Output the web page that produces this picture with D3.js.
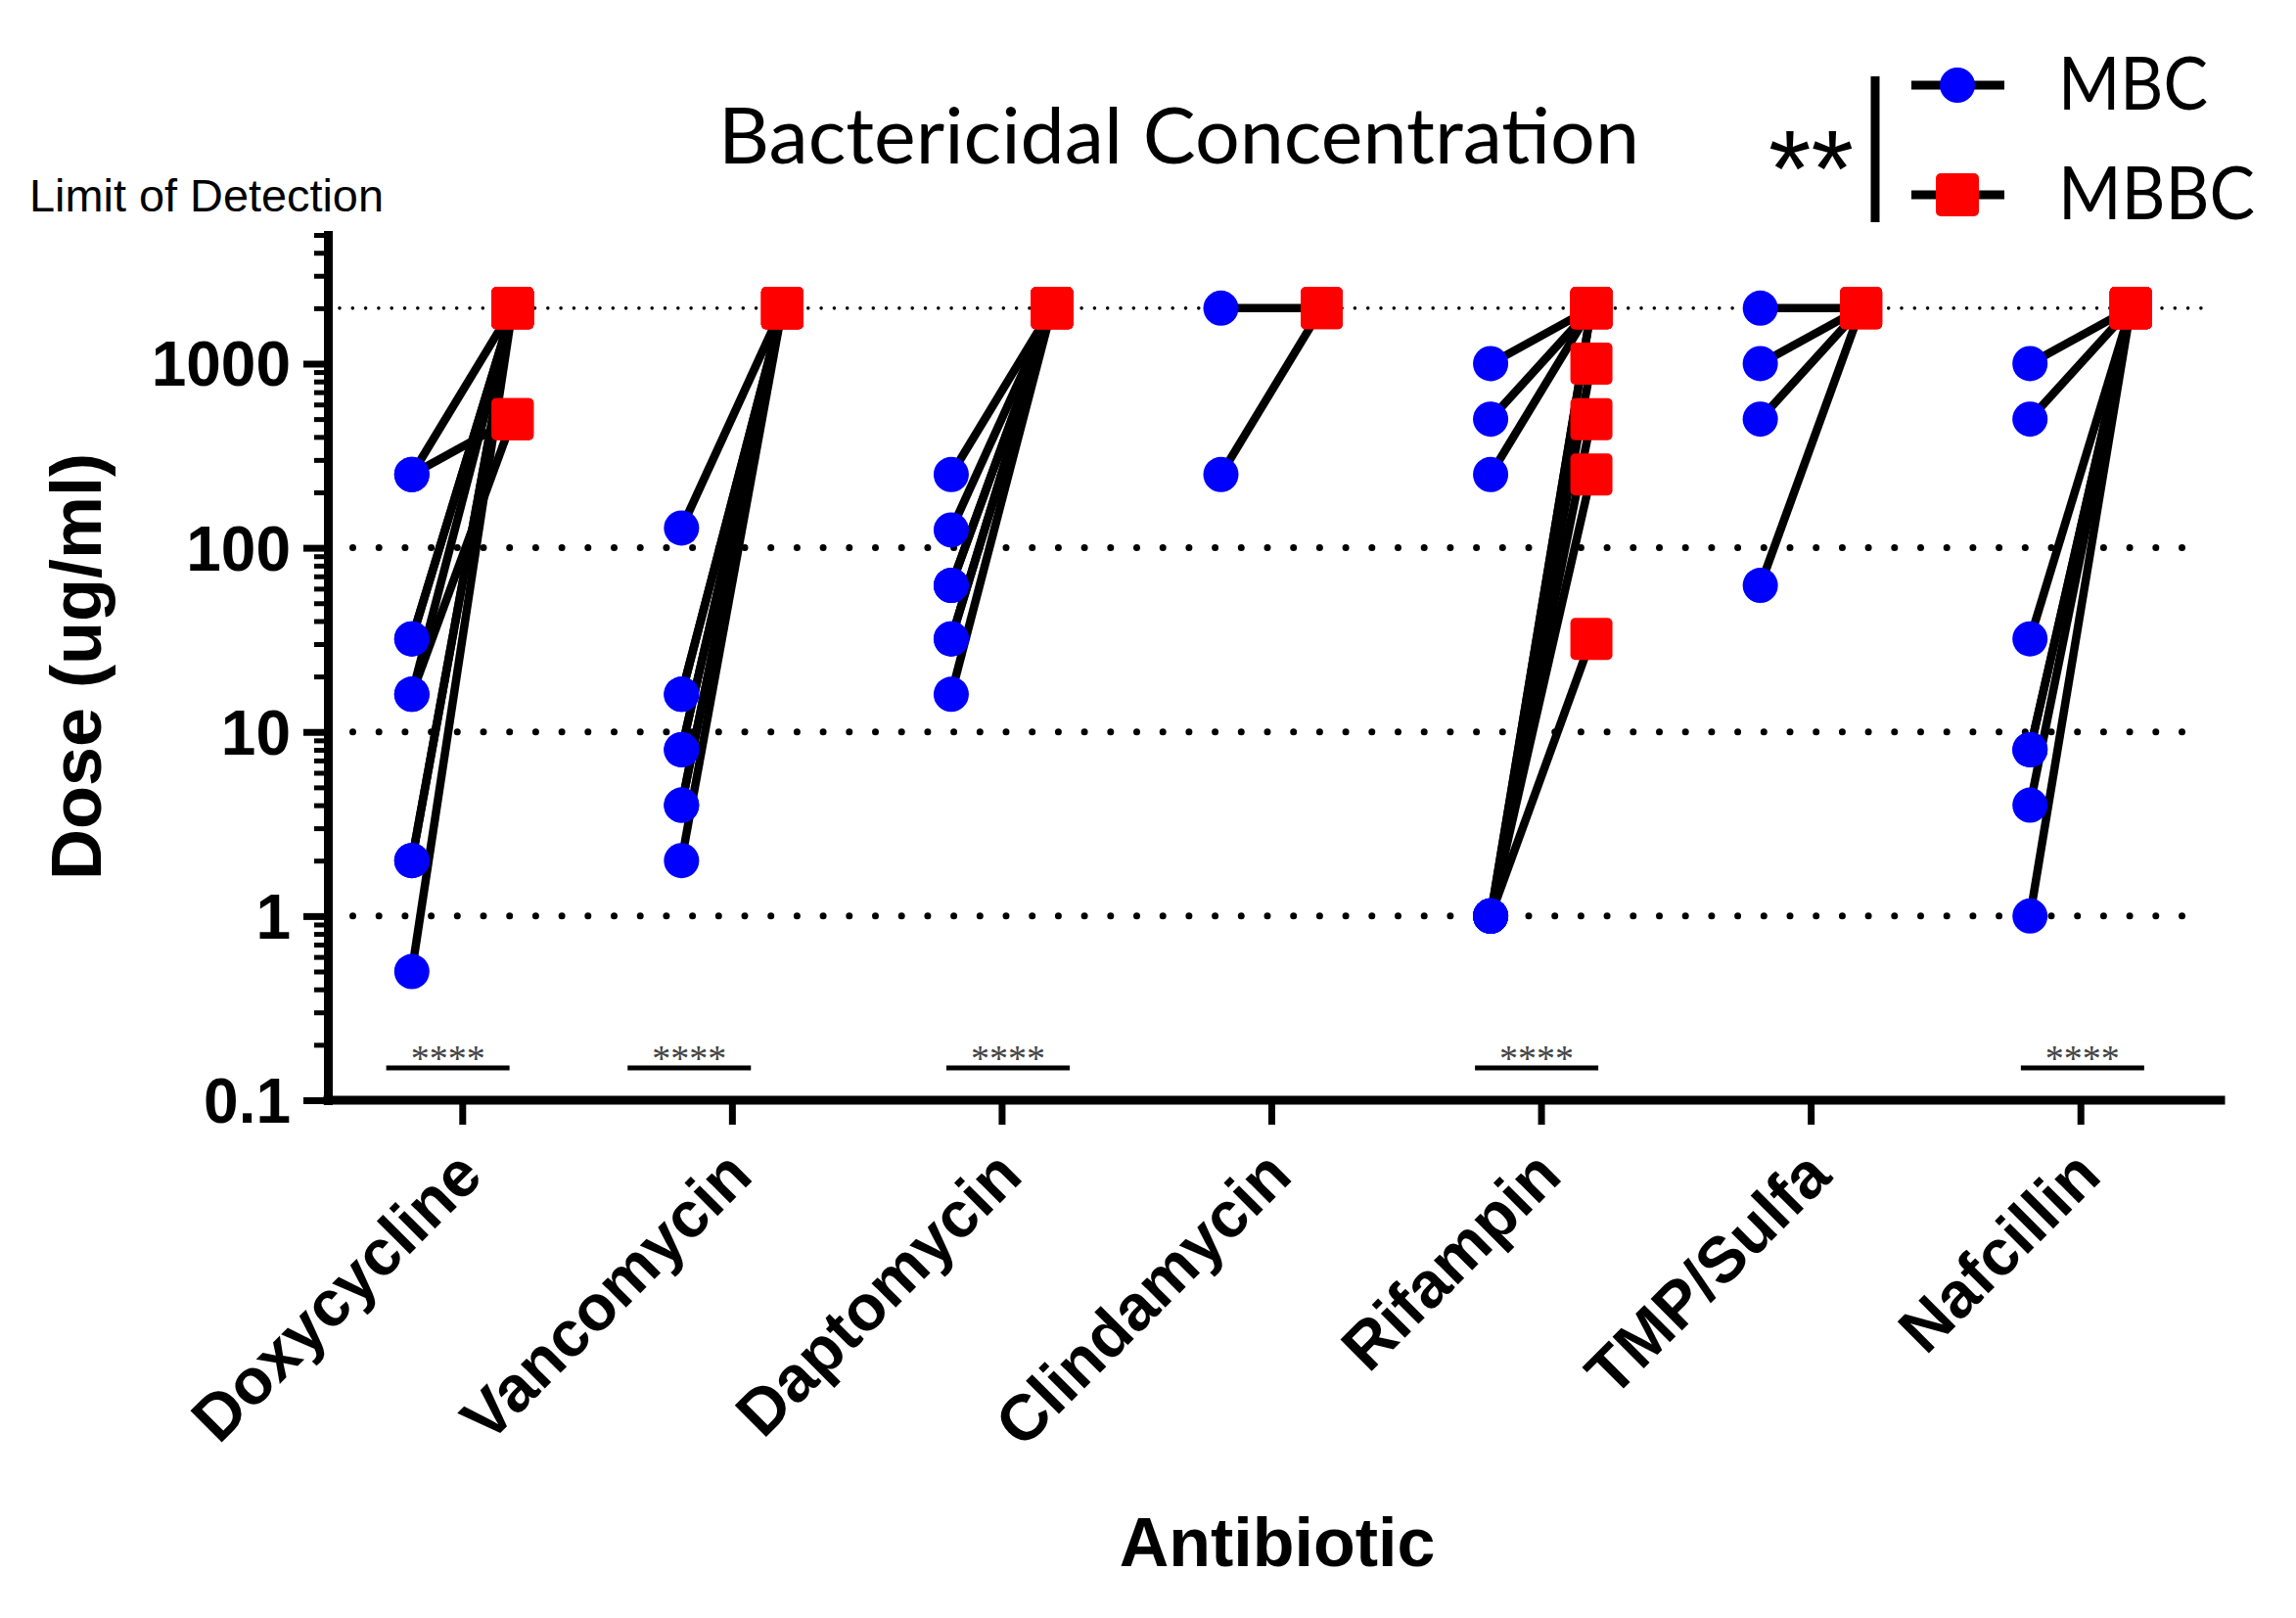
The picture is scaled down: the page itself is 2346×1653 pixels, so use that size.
<!DOCTYPE html>
<html>
<head>
<meta charset="utf-8">
<script src="https://cdn.jsdelivr.net/npm/d3@7"></script>
<style>
  html, body { margin: 0; padding: 0; background: #fff; }
  svg { display: block; }
</style>
</head>
<body>
<script>
// ---------------- DATA ----------------
const categories = ["Doxycycline", "Vancomycin", "Daptomycin", "Clindamycin", "Rifampin", "TMP/Sulfa", "Nafcillin"];
const seriesNames = ["MBC", "MBBC"];
// paired isolate values (MBC -> MBBC), ug/ml
const mbcValues = [
  [250, 250, 32, 32, 16, 16, 2, 2, 0.5],
  [128, 16, 16, 8, 8, 4, 4, 2],
  [250, 125, 62.5, 62.5, 32, 32, 16],
  [2000, 250],
  [1000, 500, 250, 1, 1, 1, 1, 1, 1],
  [2000, 1000, 500, 62.5],
  [1000, 500, 32, 8, 8, 4, 1]
];
const mbbcValues = [
  [2000, 500, 2000, 2000, 500, 2000, 2000, 2000, 2000],
  [2000, 2000, 2000, 2000, 2000, 2000, 2000, 2000],
  [2000, 2000, 2000, 2000, 2000, 2000, 2000],
  [2000, 2000],
  [2000, 2000, 2000, 2000, 2000, 1000, 500, 250, 32],
  [2000, 2000, 2000, 2000],
  [2000, 2000, 2000, 2000, 2000, 2000, 2000]
];
const sigLabels = ["****", "****", "****", "", "****", "", "****"];
const majorTicks = [0.1, 1, 10, 100, 1000];
const majorTickLabels = ["0.1", "1", "10", "100", "1000"];
const gridValues = [1, 10, 100];
const limitOfDetection = 2000;
const yDomain = [0.1, 5000];

// ---------------- LAYOUT ----------------
const W = 2346, H = 1653;
const plot = { left: 335, right: 2264, top: 240, bottom: 1124 };
const sigShift = [-0.055, -0.16, 0.022, 0, -0.018, 0, 0.006]; // in band units

const svg = d3.select("body").append("svg")
  .attr("width", W).attr("height", H)
  .attr("viewBox", `0 0 ${W} ${H}`);

const x = d3.scaleBand().domain(categories).range([plot.left, plot.right]).padding(0);
const xSub = d3.scalePoint().domain(seriesNames).range([-52, 51]);
const y = d3.scaleLog().domain(yDomain).range([plot.bottom, plot.top]);
const cx = c => x(c) + x.bandwidth() / 2;

// ---------------- GRID ----------------
svg.append("g").selectAll("line")
  .data(gridValues).join("line")
  .attr("x1", 360.5).attr("x2", 2252)
  .attr("y1", d => y(d)).attr("y2", d => y(d))
  .attr("stroke", "#000").attr("stroke-width", 7)
  .attr("stroke-linecap", "round").attr("stroke-dasharray", "0 26.7");

svg.append("line")
  .attr("x1", 347).attr("x2", 2262)
  .attr("y1", y(limitOfDetection)).attr("y2", y(limitOfDetection))
  .attr("stroke", "#000").attr("stroke-width", 3.6)
  .attr("stroke-linecap", "round").attr("stroke-dasharray", "0 13.3");

// ---------------- AXES ----------------
const minorTicks = [];
for (let e = -1; e <= 3; e++) {
  for (let m = 2; m <= 9; m++) {
    const v = m * Math.pow(10, e);
    if (v <= yDomain[1]) minorTicks.push(v);
  }
}

const yMinor = svg.append("g").attr("transform", `translate(${plot.left},0)`)
  .call(d3.axisLeft(y).tickValues(minorTicks).tickFormat("").tickSize(14).tickSizeOuter(0));
yMinor.select(".domain").remove();
yMinor.selectAll(".tick line").attr("stroke", "#000").attr("stroke-width", 5);

const yAxis = svg.append("g").attr("transform", `translate(${plot.left},0)`)
  .call(d3.axisLeft(y).tickValues(majorTicks)
    .tickFormat((d, i) => majorTickLabels[i]).tickSize(25).tickSizeOuter(0).tickPadding(13));
yAxis.select(".domain").attr("stroke", "#000").attr("stroke-width", 9)
  .attr("stroke-linecap", "square");
yAxis.selectAll(".tick line").attr("stroke", "#000").attr("stroke-width", 7);
yAxis.selectAll(".tick text")
  .attr("font-family", "'Liberation Sans', Arial, sans-serif")
  .attr("font-weight", "bold").attr("font-size", 64).attr("fill", "#000")
  .attr("dy", "0.35em");

const xAxis = svg.append("g").attr("transform", `translate(0,${plot.bottom})`)
  .call(d3.axisBottom(x).tickSize(25).tickSizeOuter(0).tickFormat(""));
xAxis.select(".domain").attr("d", `M${plot.left},0H2269`)
  .attr("stroke", "#000").attr("stroke-width", 9).attr("stroke-linecap", "square");
xAxis.selectAll(".tick line").attr("stroke", "#000").attr("stroke-width", 7);

// category labels (rotated)
svg.append("g").selectAll("text")
  .data(categories).join("text")
  .attr("transform", d => `translate(${cx(d) + 23},1204) rotate(-45)`)
  .attr("text-anchor", "end")
  .attr("font-family", "'Liberation Sans', Arial, sans-serif")
  .attr("font-weight", "bold").attr("font-size", 66)
  .text(d => d);

// axis titles
svg.append("text")
  .attr("transform", "translate(103,681) rotate(-90)")
  .attr("text-anchor", "middle")
  .attr("font-family", "'Liberation Sans', Arial, sans-serif")
  .attr("font-weight", "bold").attr("font-size", 72)
  .text("Dose (ug/ml)");

svg.append("text")
  .attr("x", 1305).attr("y", 1600)
  .attr("text-anchor", "middle")
  .attr("font-family", "'Liberation Sans', Arial, sans-serif")
  .attr("font-weight", "bold").attr("font-size", 70)
  .text("Antibiotic");

// ---------------- PAIRED DATA ----------------
const pairs = [];
categories.forEach((c, i) => {
  mbcValues[i].forEach((v, j) => pairs.push({ cat: c, mbc: v, mbbc: mbbcValues[i][j] }));
});

svg.append("g").selectAll("line")
  .data(pairs).join("line")
  .attr("x1", d => cx(d.cat) + xSub("MBC")).attr("y1", d => y(d.mbc))
  .attr("x2", d => cx(d.cat) + xSub("MBBC")).attr("y2", d => y(d.mbbc))
  .attr("stroke", "#000").attr("stroke-width", 8.5);

svg.append("g").selectAll("circle")
  .data(pairs).join("circle")
  .attr("cx", d => cx(d.cat) + xSub("MBC")).attr("cy", d => y(d.mbc))
  .attr("r", 18).attr("fill", "#0000ff");

const sq = 43;
svg.append("g").selectAll("rect")
  .data(pairs).join("rect")
  .attr("x", d => cx(d.cat) + xSub("MBBC") - sq / 2).attr("y", d => y(d.mbbc) - sq / 2)
  .attr("width", sq).attr("height", sq).attr("rx", 5)
  .attr("fill", "#ff0000");

// ---------------- SIGNIFICANCE ----------------
const sigG = svg.append("g");
categories.forEach((c, i) => {
  if (!sigLabels[i]) return;
  const mid = cx(c) + sigShift[i] * x.bandwidth();
  sigG.append("line")
    .attr("x1", mid - 63).attr("x2", mid + 63)
    .attr("y1", 1091).attr("y2", 1091)
    .attr("stroke", "#000").attr("stroke-width", 5);
  sigG.append("text")
    .attr("x", mid).attr("y", 1094)
    .attr("text-anchor", "middle")
    .attr("font-family", "'Liberation Serif', 'Times New Roman', serif")
    .attr("font-size", 38).attr("fill", "#444")
    .text(sigLabels[i]);
});

// ---------------- TITLES ----------------
svg.append("text")
  .attr("x", 734).attr("y", 167)
  .attr("font-family", "Lato, 'Noto Sans', sans-serif")
  .attr("font-size", 80)
  .attr("textLength", 941).attr("lengthAdjust", "spacingAndGlyphs")
  .text("Bactericidal Concentration");

svg.append("text")
  .attr("x", 30).attr("y", 216)
  .attr("font-family", "'Liberation Sans', Arial, sans-serif")
  .attr("font-size", 46)
  .attr("textLength", 362).attr("lengthAdjust", "spacingAndGlyphs")
  .text("Limit of Detection");

// ---------------- LEGEND ----------------
const leg = svg.append("g");
leg.append("text")
  .attr("x", 1807).attr("y", 211)
  .attr("font-family", "'Liberation Sans', Arial, sans-serif")
  .attr("font-size", 112)
  .attr("textLength", 87).attr("lengthAdjust", "spacingAndGlyphs")
  .text("**");
leg.append("line")
  .attr("x1", 1916).attr("x2", 1916).attr("y1", 78).attr("y2", 227)
  .attr("stroke", "#000").attr("stroke-width", 9);

const legendRows = [
  { name: seriesNames[0], y: 87, len: 153 },
  { name: seriesNames[1], y: 199, len: 201 }
];
legendRows.forEach((r, i) => {
  leg.append("line")
    .attr("x1", 1953).attr("x2", 2048).attr("y1", r.y).attr("y2", r.y)
    .attr("stroke", "#000").attr("stroke-width", 9);
  if (i === 0) {
    leg.append("circle").attr("cx", 2000).attr("cy", r.y).attr("r", 18).attr("fill", "#0000ff");
  } else {
    leg.append("rect").attr("x", 2000 - 22).attr("y", r.y - 22)
      .attr("width", 44).attr("height", 44).attr("rx", 5).attr("fill", "#ff0000");
  }
  leg.append("text")
    .attr("x", 2103).attr("y", r.y + 25)
    .attr("font-family", "Lato, 'Noto Sans', sans-serif")
    .attr("font-size", 75)
    .attr("textLength", r.len).attr("lengthAdjust", "spacingAndGlyphs")
    .text(r.name);
});
</script>
</body>
</html>
